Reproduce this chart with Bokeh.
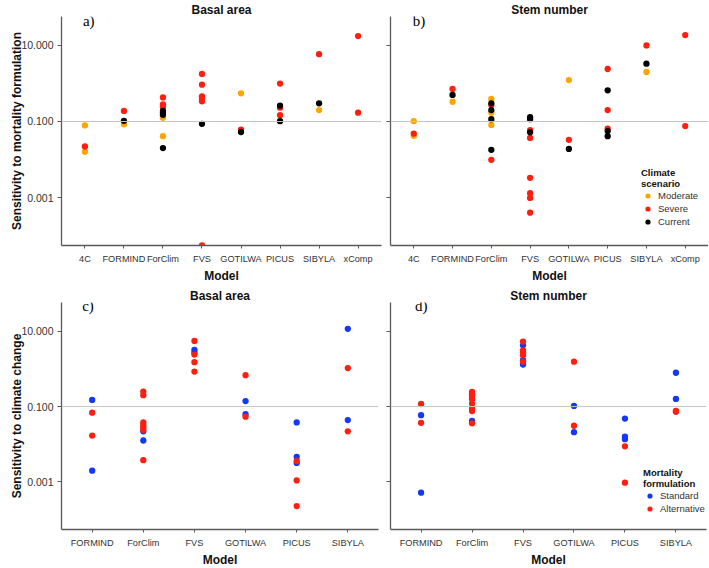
from bokeh.plotting import figure
from bokeh.models import (FactorRange, Range1d, FixedTicker, PrintfTickFormatter,
                          Span, Legend, LegendItem, ColumnDataSource, Title,
                          CustomLabelingPolicy, CustomJSTickFormatter)
from bokeh.layouts import column, row
from bokeh.embed import file_html
from bokeh.resources import INLINE
from bokeh.core.properties import value

# ---------------- data ----------------
models_top = ["4C", "FORMIND", "ForClim", "FVS", "GOTILWA", "PICUS", "SIBYLA", "xComp"]
models_bottom = ["FORMIND", "ForClim", "FVS", "GOTILWA", "PICUS", "SIBYLA"]
y_tick_values = [0.001, 0.1, 10]

# a) Basal area - sensitivity to mortality formulation
a_moderate_models = ["4C", "4C", "FORMIND", "ForClim", "ForClim", "GOTILWA", "SIBYLA"]
a_moderate = [0.079, 0.016, 0.085, 0.125, 0.041, 0.55, 0.20]
a_severe_models = ["4C", "FORMIND", "ForClim", "ForClim", "ForClim", "FVS", "FVS", "FVS",
                   "FVS", "FVS", "FVS", "GOTILWA", "PICUS", "PICUS", "PICUS", "SIBYLA",
                   "xComp", "xComp"]
a_severe = [0.022, 0.19, 0.43, 0.28, 0.243, 1.78, 0.93, 0.46, 0.40, 0.34, 0.000055,
            0.061, 0.99, 0.23, 0.147, 5.9, 17.6, 0.17]
a_current_models = ["FORMIND", "ForClim", "ForClim", "ForClim", "ForClim", "FVS",
                    "GOTILWA", "PICUS", "PICUS", "SIBYLA"]
a_current = [0.104, 0.19, 0.17, 0.15, 0.020, 0.087, 0.053, 0.26, 0.102, 0.30]

# b) Stem number - sensitivity to mortality formulation
b_moderate_models = ["4C", "4C", "FORMIND", "ForClim", "ForClim", "ForClim", "GOTILWA", "SIBYLA"]
b_moderate = [0.102, 0.042, 0.33, 0.39, 0.17, 0.081, 1.23, 2.0]
b_severe_models = ["4C", "FORMIND", "ForClim", "ForClim", "FVS", "FVS", "FVS", "FVS", "FVS",
                   "FVS", "GOTILWA", "PICUS", "PICUS", "PICUS", "SIBYLA", "xComp", "xComp"]
b_severe = [0.048, 0.72, 0.27, 0.0098, 0.059, 0.037, 0.0033, 0.0013, 0.00098, 0.0004,
            0.033, 2.4, 0.20, 0.065, 10.0, 18.7, 0.076]
b_current_models = ["FORMIND", "ForClim", "ForClim", "ForClim", "ForClim", "FVS", "FVS",
                    "FVS", "GOTILWA", "PICUS", "PICUS", "PICUS", "SIBYLA"]
b_current = [0.50, 0.30, 0.20, 0.115, 0.018, 0.13, 0.115, 0.052, 0.019, 0.66, 0.056,
             0.041, 3.3]

# c) Basal area - sensitivity to climate change
c_standard_models = ["FORMIND", "FORMIND", "ForClim", "ForClim", "FVS", "FVS", "GOTILWA",
                     "GOTILWA", "PICUS", "PICUS", "PICUS", "SIBYLA", "SIBYLA"]
c_standard = [0.15, 0.002, 0.022, 0.0126, 3.2, 2.7, 0.14, 0.063, 0.038, 0.0046, 0.0032,
              11.5, 0.044]
c_alternative_models = ["FORMIND", "FORMIND", "ForClim", "ForClim", "ForClim", "ForClim",
                        "ForClim", "ForClim", "ForClim", "FVS", "FVS", "FVS", "FVS",
                        "GOTILWA", "GOTILWA", "PICUS", "PICUS", "PICUS", "SIBYLA", "SIBYLA"]
c_alternative = [0.069, 0.017, 0.25, 0.20, 0.038, 0.032, 0.028, 0.024, 0.0038, 5.5, 2.4,
                 1.5, 0.85, 0.68, 0.054, 0.0036, 0.0011, 0.00023, 1.05, 0.022]

# d) Stem number - sensitivity to climate change
d_standard_models = ["FORMIND", "FORMIND", "ForClim", "ForClim", "FVS", "FVS", "FVS",
                     "GOTILWA", "GOTILWA", "PICUS", "PICUS", "PICUS", "SIBYLA", "SIBYLA"]
d_standard = [0.059, 0.00052, 0.21, 0.042, 4.2, 1.7, 1.3, 0.104, 0.021, 0.048, 0.016,
              0.0137, 0.79, 0.16]
d_alternative_models = ["FORMIND", "FORMIND", "ForClim", "ForClim", "ForClim", "ForClim",
                        "ForClim", "ForClim", "ForClim", "ForClim", "FVS", "FVS", "FVS",
                        "FVS", "FVS", "GOTILWA", "GOTILWA", "PICUS", "PICUS", "SIBYLA",
                        "SIBYLA"]
d_alternative = [0.117, 0.037, 0.245, 0.21, 0.185, 0.157, 0.12, 0.089, 0.076, 0.036, 5.3,
                 3.1, 2.7, 2.3, 1.55, 1.55, 0.031, 0.0088, 0.00096, 0.077, 0.073]

# ---------------- styling ----------------
FONT = "Liberation Sans"
SERIF = "Liberation Serif"
ORANGE = "#FFA500"
RED = "#FF1F10"
BLACK = "#000000"
BLUE = "#1438F5"
AXIS_COL = "#5a5a5a"
TEXT_COL = "#333333"
Y_LO, Y_HI = 10 ** -4.26, 10 ** 1.76


def make_panel(models, groups, title, letter, letter_y, ylabel, width, height,
               borders, letter_offset, legend_title=None, legend_loc=None):
    n = len(models)
    b_left, b_right, b_top, b_bottom = borders
    p = figure(width=width, height=height, output_backend="svg", toolbar_location=None,
               x_range=FactorRange(factors=models, range_padding=0.2 / n),
               y_range=Range1d(Y_LO, Y_HI), y_axis_type="log",
               min_border_left=b_left, min_border_right=b_right,
               min_border_top=b_top, min_border_bottom=b_bottom)
    p.outline_line_color = None
    p.grid.visible = False
    p.background_fill_color = "white"
    p.border_fill_color = "white"

    p.title.text = title
    p.title.align = "center"
    p.title.text_font = FONT
    p.title.text_font_size = "12px"
    p.title.text_font_style = "bold"
    p.title.text_color = "#111111"
    p.title.standoff = 0

    for ax in (p.xaxis[0], p.yaxis[0]):
        ax.axis_line_color = AXIS_COL
        ax.axis_line_width = 1.3
        ax.major_tick_line_color = AXIS_COL
        ax.minor_tick_line_color = None
        ax.major_label_text_font = FONT
        ax.major_label_text_color = TEXT_COL
        ax.axis_label_text_font = FONT
        ax.axis_label_text_font_size = "12px"
        ax.axis_label_text_font_style = "bold"
        ax.axis_label_text_color = "#111111"
    p.xaxis.major_label_text_font_size = "9.2px"
    p.xaxis.major_tick_out = 3
    p.xaxis.major_tick_in = 0
    p.xaxis.major_label_standoff = 5

    p.add_layout(Title(text="Model", align="center", text_font=FONT, text_font_size="12px",
                       text_font_style="bold", text_color="#111111", standoff=0), "below")

    p.yaxis.ticker = FixedTicker(ticks=y_tick_values, minor_ticks=[])
    p.yaxis.major_tick_out = 4
    p.yaxis.major_tick_in = 0
    if ylabel:
        p.yaxis.formatter = PrintfTickFormatter(format="%.3f")
        p.yaxis.major_label_text_font_size = "10.5px"
        p.yaxis.axis_label = ylabel
        p.yaxis.major_label_standoff = 4
        p.yaxis.axis_label_standoff = -6
    else:
        # tick marks only, no tick labels (as in the reference)
        p.yaxis.formatter = CustomJSTickFormatter(code="return ''")
        p.yaxis.major_label_policy = CustomLabelingPolicy(code="return []")
        p.yaxis.major_label_standoff = 0

    p.add_layout(Span(location=0.1, dimension="width", line_color="#c4c4c4", line_width=1))

    items = []
    for label, cats, vals, col in groups:
        src = ColumnDataSource(dict(model=cats, val=vals))
        r = p.scatter(x="model", y="val", source=src, size=6.3, fill_color=col,
                      line_color=None)
        items.append(LegendItem(label=label, renderers=[r]))

    p.text(x=[models[0]], y=[letter_y], text=[letter], x_offset=letter_offset,
           text_align="left", text_baseline="middle", text_font=value(SERIF),
           text_font_size="15px", text_color="black")

    if legend_title:
        leg = Legend(items=items, location=legend_loc, title=legend_title,
                     title_text_font=FONT, title_text_font_size="9.5px",
                     title_text_font_style="bold", title_text_color="#111111",
                     title_standoff=-1, label_text_font=FONT, label_text_font_size="9.5px",
                     label_text_color=TEXT_COL, glyph_height=13, glyph_width=13,
                     label_height=13, label_standoff=4, spacing=0, padding=0, margin=0,
                     border_line_color=None, background_fill_alpha=0)
        p.add_layout(leg)
    return p


pa = make_panel(models_top,
                [("Moderate", a_moderate_models, a_moderate, ORANGE),
                 ("Severe", a_severe_models, a_severe, RED),
                 ("Current", a_current_models, a_current, BLACK)],
                "Basal area", "a)", 43, "Sensitivity to mortality formulation",
                386, 284, (61, 5, 0, 39), -2)
pb = make_panel(models_top,
                [("Moderate", b_moderate_models, b_moderate, ORANGE),
                 ("Severe", b_severe_models, b_severe, RED),
                 ("Current", b_current_models, b_current, BLACK)],
                "Stem number", "b)", 43, None,
                322, 284, (4, 0, 0, 39), -1,
                legend_title="Climate\nscenario", legend_loc=(251, 17))
pc = make_panel(models_bottom,
                [("Standard", c_standard_models, c_standard, BLUE),
                 ("Alternative", c_alternative_models, c_alternative, RED)],
                "Basal area", "c)", 46, "Sensitivity to climate change",
                386, 282, (61, 8, 18, 0), -10)
pd_ = make_panel(models_bottom,
                 [("Standard", d_standard_models, d_standard, BLUE),
                  ("Alternative", d_alternative_models, d_alternative, RED)],
                 "Stem number", "d)", 46, None,
                 322, 282, (4, 2, 18, 0), -6,
                 legend_title="Mortality\nformulation", legend_loc=(253, 14))

layout = column(row(pa, pb), row(pc, pd_))
open("out.html", "w").write(file_html(layout, INLINE))
